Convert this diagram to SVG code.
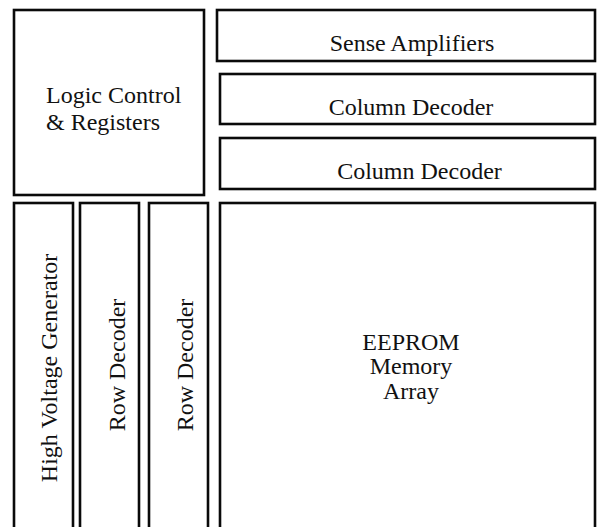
<svg xmlns="http://www.w3.org/2000/svg" width="597" height="527" viewBox="0 0 597 527">
  <style>
    .blk { fill: #ffffff; stroke: #0a0a0a; stroke-width: 2.6; }
    .lbl { font-family: "Liberation Serif", "Times New Roman", serif; font-size: 24px; fill: #111111; }
    .mid { text-anchor: middle; }
  </style>
  <rect width="597" height="527" fill="#ffffff"/>

  <!-- top-left control block -->
  <g id="logic-control">
    <rect class="blk" x="14" y="10" width="190" height="185"/>
    <text class="lbl" x="46" y="102.5">Logic Control</text>
    <text class="lbl" x="46" y="130">&amp; Registers</text>
  </g>

  <!-- top-right stacked strips -->
  <g id="sense-amplifiers">
    <rect class="blk" x="217" y="10" width="378" height="51"/>
    <text class="lbl mid" x="412" y="50.5">Sense Amplifiers</text>
  </g>
  <g id="column-decoder-1">
    <rect class="blk" x="220" y="74" width="375" height="50"/>
    <text class="lbl mid" x="411" y="115">Column Decoder</text>
  </g>
  <g id="column-decoder-2">
    <rect class="blk" x="220" y="138" width="375" height="51"/>
    <text class="lbl mid" x="419.5" y="179">Column Decoder</text>
  </g>

  <!-- bottom-left vertical columns -->
  <g id="high-voltage-generator">
    <rect class="blk" x="14" y="203" width="59" height="340"/>
    <text class="lbl mid" transform="translate(57,368) rotate(-90)">High Voltage Generator</text>
  </g>
  <g id="row-decoder-1">
    <rect class="blk" x="80" y="203" width="59" height="340"/>
    <text class="lbl mid" transform="translate(124.5,365) rotate(-90)">Row Decoder</text>
  </g>
  <g id="row-decoder-2">
    <rect class="blk" x="149" y="203" width="59" height="340"/>
    <text class="lbl mid" transform="translate(193,365) rotate(-90)">Row Decoder</text>
  </g>

  <!-- main array -->
  <g id="eeprom-array">
    <rect class="blk" x="220" y="203" width="375" height="340"/>
    <text class="lbl mid" x="411" y="349.5">EEPROM</text>
    <text class="lbl mid" x="411" y="374">Memory</text>
    <text class="lbl mid" x="411" y="398.5">Array</text>
  </g>

  <g id="connectors"/>
</svg>
